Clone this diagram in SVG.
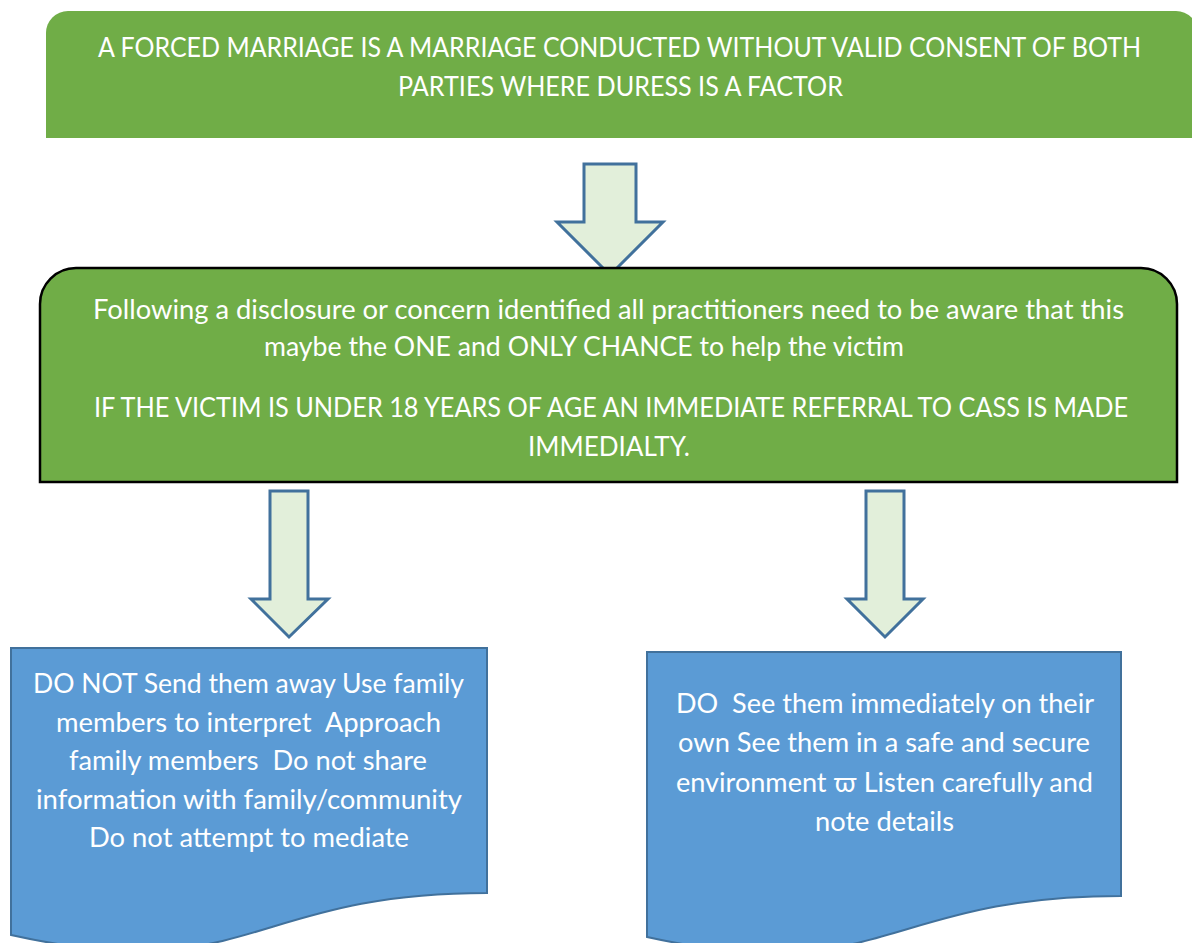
<svg xmlns="http://www.w3.org/2000/svg" width="1192" height="943" viewBox="0 0 1192 943">
<style>
.green{fill:#70AD47;}
.main{fill:#70AD47;stroke:#000;stroke-width:2.5;}
.doc{fill:#5B9BD5;stroke:#41719C;stroke-width:2;}
.arrow{fill:#E2EFDA;stroke:#41719C;stroke-width:3;stroke-linejoin:miter;}
text{font-family:Lato,"Open Sans","Liberation Sans",sans-serif;fill:#fff;font-size:26px;white-space:pre;}
</style>
<rect width="1192" height="943" fill="#fff"/>
<g id="connectors">
<path class="arrow" d="M584,164 H636 V222 H663 L610,275 L557,222 H584 Z"/>
<path class="arrow" d="M270,491 H308 V599 H328 L289,637 L251,599 H270 Z"/>
<path class="arrow" d="M866,491 H904 V599 H923 L885,637 L847,599 H866 Z"/>
</g>
<g id="definition">
<path class="green" d="M46,138 V33 A22,22 0 0 1 68,11 H1176 A22,22 0 0 1 1198,33 V138 Z"/>
<text x="98" y="57" textLength="1043" lengthAdjust="spacingAndGlyphs">A FORCED MARRIAGE IS A MARRIAGE CONDUCTED WITHOUT VALID CONSENT OF BOTH</text>
<text x="398" y="96" textLength="445" lengthAdjust="spacingAndGlyphs">PARTIES WHERE DURESS IS A FACTOR</text>
</g>
<g id="disclosure">
<path class="main" d="M40,482 V304 A36,36 0 0 1 76,268 H1141 A36,36 0 0 1 1177,304 V482 Z"/>
<text x="93" y="319" textLength="1031" lengthAdjust="spacingAndGlyphs">Following a disclosure or concern identified all practitioners need to be aware that this</text>
<text x="264" y="356" textLength="640" lengthAdjust="spacingAndGlyphs">maybe the ONE and ONLY CHANCE to help the victim</text>
<text x="94" y="417" textLength="1034" lengthAdjust="spacingAndGlyphs">IF THE VICTIM IS UNDER 18 YEARS OF AGE AN IMMEDIATE REFERRAL TO CASS IS MADE</text>
<text x="528" y="456" textLength="162" lengthAdjust="spacingAndGlyphs">IMMEDIALTY.</text>
</g>
<g id="do-not">
<path class="doc" d="M11,648 H487 V893 C249,893 249,988 11,935 Z"/>
<text x="33" y="693" textLength="431" lengthAdjust="spacingAndGlyphs">DO NOT Send them away Use family</text>
<text x="56" y="732" textLength="385" lengthAdjust="spacingAndGlyphs">members to interpret  Approach</text>
<text x="69" y="770" textLength="358" lengthAdjust="spacingAndGlyphs">family members  Do not share</text>
<text x="36" y="809" textLength="426" lengthAdjust="spacingAndGlyphs">information with family/community</text>
<text x="89" y="847" textLength="320" lengthAdjust="spacingAndGlyphs">Do not attempt to mediate</text>
</g>
<g id="do">
<path class="doc" d="M647,652 H1121 V896 C884,896 884,989 647,937 Z"/>
<text x="676" y="713" textLength="418" lengthAdjust="spacingAndGlyphs">DO  See them immediately on their</text>
<text x="678" y="752" textLength="412" lengthAdjust="spacingAndGlyphs">own See them in a safe and secure</text>
<text x="676" y="792" textLength="417" lengthAdjust="spacingAndGlyphs">environment ϖ Listen carefully and</text>
<text x="815" y="831" textLength="139" lengthAdjust="spacingAndGlyphs">note details</text>
</g>
</svg>
